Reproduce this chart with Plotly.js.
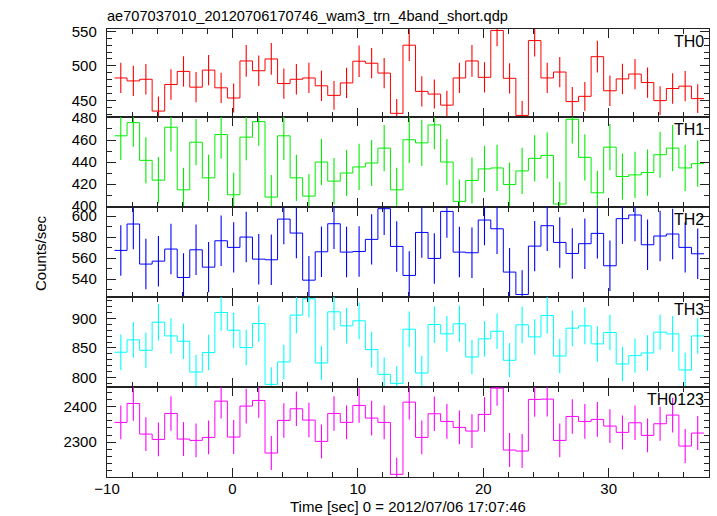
<!DOCTYPE html>
<html>
<head>
<meta charset="utf-8">
<script src="https://cdn.plot.ly/plotly-3.0.1.min.js"></script>
<style>html,body{margin:0;padding:0;background:#fff;}#chart{width:717px;height:516px;}</style>
</head>
<body>
<div id="chart"></div>
<script>
const titleText = "ae707037010_20120706170746_wam3_trn_4band_short.qdp";
const xTitle = "Time [sec] 0 = 2012/07/06 17:07:46";
const yTitle = "Counts/sec";
const panelNames = ["TH0", "TH1", "TH2", "TH3", "TH0123"];
const binWidth = 1.0;
const timeCenters = [-8.9,-7.9,-6.9,-5.9,-4.9,-3.9,-2.9,-1.9,-0.9,0.1,1.1,2.1,3.1,4.1,5.1,6.1,7.1,8.1,9.1,10.1,11.1,12.1,13.1,14.1,15.1,16.1,17.1,18.1,19.1,20.1,21.1,22.1,23.1,24.1,25.1,26.1,27.1,28.1,29.1,30.1,31.1,32.1,33.1,34.1,35.1,36.1,37.1];

const th0 = [482.4,478.1,480.5,434.3,472.9,491.9,469.0,493.8,468.1,453.3,507.1,492.9,510.0,474.3,480.5,482.4,471.0,457.1,475.2,506.7,503.8,489.5,431.0,530.0,462.9,459.0,442.9,482.4,507.1,483.3,551.4,481.9,428.0,536.7,482.4,491.0,448.1,455.7,513.3,463.8,481.0,488.1,475.7,449.5,467.1,470.5,452.4];
const th0Err = [22,22,22,21,22,22,22,22,22,21,23,22,23,22,22,22,22,21,22,23,22,22,21,23,22,21,21,22,23,22,23,22,21,23,22,22,21,21,23,22,22,22,22,21,22,22,21];

const th1 = [463.8,475.8,441.5,423.5,471.6,414.7,458.0,425.6,465.0,410.2,462.6,476.7,408.1,463.8,425.6,409.0,440.0,422.6,430.0,435.5,439.1,452.6,414.7,460.2,457.4,473.7,440.0,404.2,423.2,433.7,434.6,419.5,431.9,443.3,446.0,401.8,478.8,444.2,412.0,453.5,426.8,428.3,430.4,446.6,452.6,434.6,438.5];
const th1Err = [22,22,21,21,22,20,21,21,22,20,21,22,20,22,21,20,21,21,21,21,21,21,20,21,21,22,21,20,21,21,21,20,21,21,21,20,22,21,20,21,21,21,21,21,21,21,21];

const th2 = [567.3,592.4,554.3,557.1,568.6,541.6,567.9,551.4,576.5,570.2,580.0,559.0,558.4,597.1,583.8,539.0,566.0,592.7,565.7,566.3,577.8,607.0,571.1,543.5,584.4,559.7,604.4,565.7,565.1,596.2,587.9,546.7,525.4,571.4,590.8,574.9,564.4,573.7,583.5,552.7,597.5,601.0,572.7,581.0,582.9,570.2,564.1];
const th2Err = [24,24,24,24,24,23,24,24,24,24,24,24,24,24,24,23,24,24,24,24,24,25,24,23,24,24,25,24,24,24,24,23,23,24,24,24,24,24,24,24,24,25,24,24,24,24,24];

const th3 = [842.7,863.6,846.0,893.5,870.3,861.3,809.3,842.1,909.9,879.9,850.6,891.2,788.4,826.3,905.4,933.0,824.6,911.0,887.3,895.8,847.2,805.4,790.1,881.6,807.6,889.5,873.7,890.7,834.7,865.3,878.2,829.1,889.0,868.6,904.8,836.4,883.3,887.3,856.8,876.0,822.9,837.0,841.5,876.6,873.7,812.7,870.3];
const th3Err = [30,30,30,31,30,30,29,30,31,30,30,31,29,29,31,31,29,31,30,31,30,29,29,30,29,31,30,31,29,30,30,29,31,30,31,29,30,31,30,30,29,29,30,30,30,29,30];

const th0123 = [2355.7,2409.4,2322.6,2307.5,2381.1,2308.5,2304.7,2313.2,2416.0,2314.2,2401.9,2417.9,2268.9,2361.3,2394.3,2362.3,2301.9,2381.1,2355.7,2403.8,2367.9,2355.7,2208.5,2413.2,2313.2,2380.2,2358.5,2341.5,2331.1,2378.3,2452.8,2277.4,2274.5,2420.8,2421.7,2304.7,2372.6,2358.5,2364.2,2345.3,2327.4,2354.7,2318.9,2351.9,2376.4,2288.7,2325.5];
const th0123Err = [48,49,48,48,49,48,48,48,49,48,49,49,48,49,49,49,48,49,48,49,49,48,47,49,48,49,49,48,48,49,50,48,48,49,49,48,49,49,49,48,48,49,48,48,49,48,48];

const seriesValues = [th0, th1, th2, th3, th0123];
const seriesErrors = [th0Err, th1Err, th2Err, th3Err, th0123Err];
const colors = ["#ff0000", "#00ee00", "#0000ff", "#00ffff", "#ff00ff"];
const yRanges = [[425.7, 553.5], [399.1, 480.9], [523, 608.6], [784, 936], [2201, 2456]];
const yDticks = [50, 20, 20, 50, 100];
const yMinorDticks = [10, 10, 10, 10, 20];

const H = 448;
const panelPx = [[0, 88], [88, 178], [178, 268], [268, 358], [358, 448]];
const font = {family: "Liberation Sans, Arial, sans-serif", size: 15, color: "#000"};

const data = [];
const layout = {
  width: 717, height: 516,
  margin: {l: 107, r: 8, t: 29, b: 39, pad: 0},
  paper_bgcolor: "#fff", plot_bgcolor: "#fff",
  showlegend: false,
  font: font,
  title: {text: titleText, xref: "container", yref: "container", x: 107/717, xanchor: "left", y: 1 - 21/516, yanchor: "bottom", font: {family: font.family, size: 14.6, color: "#000"}},
  annotations: [{
    text: xTitle, xref: "paper", yref: "paper", x: 0.5, y: 0, xanchor: "center", yanchor: "middle",
    yshift: -29.5, borderpad: 0, showarrow: false, font: font
  }, {
    text: yTitle, xref: "paper", yref: "paper", x: 0, y: 0.5, xanchor: "center", yanchor: "middle",
    xshift: -67, textangle: -90, showarrow: false, font: font
  }]
};

for (let i = 0; i < 5; i++) {
  const n = i + 1;
  const xa = n === 1 ? "x" : "x" + n;
  const ya = n === 1 ? "y" : "y" + n;
  const vals = seriesValues[i];
  const edges = timeCenters.map(t => t - binWidth / 2);
  edges.push(timeCenters[timeCenters.length - 1] + binWidth / 2);
  const stepY = vals.slice();
  stepY.push(vals[vals.length - 1]);
  data.push({
    type: "scatter", mode: "lines", x: edges, y: stepY, xaxis: xa, yaxis: ya,
    line: {shape: "hv", color: colors[i], width: 1}, hoverinfo: "skip"
  });
  data.push({
    type: "scatter", mode: "markers", x: timeCenters, y: vals, xaxis: xa, yaxis: ya,
    marker: {size: 0.1, color: colors[i], opacity: 0},
    error_y: {type: "data", array: seriesErrors[i], visible: true, color: colors[i], thickness: 1.1, width: 0},
    hoverinfo: "skip"
  });
  const top = 1 - panelPx[i][0] / H;
  const bot = 1 - panelPx[i][1] / H;
  const common = {
    showline: true, linecolor: "#222", linewidth: 1.2, mirror: "ticks",
    ticks: "inside", tickcolor: "#222", tickwidth: 1, showgrid: false, zeroline: false,
    tickfont: font
  };
  const xKey = n === 1 ? "xaxis" : "xaxis" + n;
  const yKey = n === 1 ? "yaxis" : "yaxis" + n;
  layout[xKey] = Object.assign({}, common, {
    anchor: ya, range: [-10, 38], dtick: 10, tick0: 0, ticklen: 9,
    minor: {dtick: 2, ticks: "inside", ticklen: 5, tickcolor: "#222", showgrid: false},
    showticklabels: n === 5
  });
  if (n !== 1) layout[xKey].matches = "x";
  if (n === 5) layout[xKey].ticklabelstandoff = -2;
  layout[yKey] = Object.assign({}, common, {
    anchor: xa, domain: [bot, top], range: yRanges[i], dtick: yDticks[i], ticklen: 9,
    minor: {dtick: yMinorDticks[i], ticks: "inside", ticklen: 5, tickcolor: "#222", showgrid: false},
    ticklabelstandoff: 6
  });
  layout.annotations.push({
    text: panelNames[i], xref: "paper", yref: "paper", x: 1, y: top, xanchor: "right", yanchor: "top",
    xshift: -3, yshift: -2, showarrow: false, font: {family: font.family, size: 16, color: "#000"}
  });
}

Plotly.newPlot("chart", data, layout, {displayModeBar: false, staticPlot: true});
</script>
</body>
</html>
